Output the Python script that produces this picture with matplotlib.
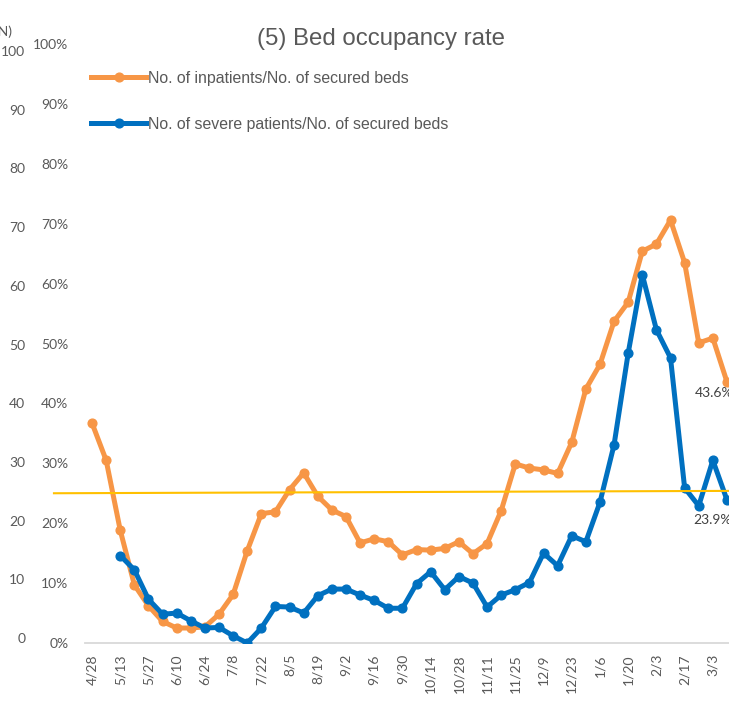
import matplotlib
matplotlib.use("Agg")
import matplotlib.pyplot as plt
import numpy as np

weeks = ["4/28", "5/6", "5/13", "5/20", "5/27", "6/3", "6/10", "6/17", "6/24", "7/1",
         "7/8", "7/15", "7/22", "7/29", "8/5", "8/12", "8/19", "8/26", "9/2", "9/9",
         "9/16", "9/23", "9/30", "10/7", "10/14", "10/21", "10/28", "11/4", "11/11", "11/18",
         "11/25", "12/2", "12/9", "12/16", "12/23", "12/30", "1/6", "1/13", "1/20", "1/27",
         "2/3", "2/10", "2/17", "2/24", "3/3", "3/10"]

inpatients = [36.7, 30.5, 18.8, 9.7, 6.2, 3.6, 2.5, 2.5, 2.7, 4.8,
              8.1, 15.4, 21.6, 21.9, 25.6, 28.4, 24.5, 22.2, 21.1, 16.7,
              17.4, 16.9, 14.7, 15.6, 15.5, 15.8, 16.9, 14.9, 16.6, 22.1,
              29.9, 29.2, 28.9, 28.3, 33.5, 42.4, 46.5, 53.7, 56.9, 65.4,
              66.6, 70.6, 63.5, 50.1, 50.9, 43.6]

severe = [np.nan, np.nan, 14.6, 12.2, 7.3, 4.8, 5.0, 3.7, 2.5, 2.6,
          1.2, 0.0, 2.5, 6.1, 6.0, 5.0, 7.9, 9.0, 9.0, 8.0,
          7.1, 5.8, 5.8, 9.9, 11.9, 8.9, 11.1, 10.0, 6.0, 8.0,
          8.9, 10.1, 15.0, 12.9, 17.9, 16.9, 23.5, 33.1, 48.4, 61.5,
          52.3, 47.6, 25.9, 22.9, 30.5, 23.9]

# reference line (start/end x in week index, value in %)
ref_x = [-2.7, 46]
ref_y = [25.0, 25.4]

ORANGE = "#F79646"
BLUE = "#0070C0"
GREY = "#595959"
TICKFONT = ["Lato", "DejaVu Sans"]

plt.rcParams["font.family"] = ["Liberation Sans", "DejaVu Sans"]

fig = plt.figure(figsize=(7.29, 7.21), dpi=100)
ax = fig.add_axes([85 / 729, 78 / 721, (734 - 85) / 729, 599 / 721])

x = np.arange(len(weeks))
ax.plot(x, inpatients, color=ORANGE, lw=3.6, marker="o", ms=6.3, zorder=3,
        label="No. of inpatients/No. of secured beds")
ax.plot(x, severe, color=BLUE, lw=3.6, marker="o", ms=6.3, zorder=4,
        label="No. of severe patients/No. of secured beds")
ax.plot(ref_x, ref_y, color="#FFC000", lw=1.5, zorder=5, clip_on=False)

ax.set_xlim(-0.5, len(weeks) - 0.5)
ax.set_ylim(0, 100)
ax.set_yticks(np.arange(0, 101, 10))
ax.set_yticklabels([f"{v}%" for v in range(0, 101, 10)], family=TICKFONT)
ax.set_xticks(x[::2])
ax.set_xticklabels(weeks[::2], rotation=90, family=TICKFONT)
ax.tick_params(axis="y", length=0, pad=12, labelsize=10, labelcolor=GREY)
ax.tick_params(axis="x", length=0, pad=8, labelsize=10, labelcolor=GREY)
for s in ["top", "right", "left"]:
    ax.spines[s].set_visible(False)
ax.spines["bottom"].set_color("#D9D9D9")
ax.spines["bottom"].set_linewidth(1.3)

# secondary count axis drawn on the left
ax2 = ax.twinx()
ax2.set_ylim(-0.84, 101.2)
ax2.set_yticks(np.arange(0, 101, 10))
ax2.set_yticklabels([str(v) for v in range(0, 101, 10)], family=TICKFONT)
ax2.yaxis.set_ticks_position("left")
ax2.tick_params(axis="y", length=0, pad=43, labelsize=10, labelcolor=GREY)
for s in ax2.spines.values():
    s.set_visible(False)
fig.text(12 / 729, 1 - 32 / 721, "(N)", ha="right", va="center", fontsize=10,
         color=GREY, family=TICKFONT)

ax.annotate(f"{inpatients[-1]}%", (x[-1], inpatients[-1]), xytext=(-23, -8),
            textcoords="offset points", ha="left", va="center", fontsize=10,
            color="#404040", family=TICKFONT)
ax.annotate(f"{severe[-1]}%", (x[-1], severe[-1]), xytext=(-24, -14.5),
            textcoords="offset points", ha="left", va="center", fontsize=10,
            color="#404040", family=TICKFONT)

fig.text(381 / 729, 1 - 39 / 721, "(5) Bed occupancy rate", ha="center", va="center",
         fontsize=17.3, color=GREY)

leg = ax.legend(loc="upper left", bbox_to_anchor=(91 / 729, 1 - 71 / 721),
                bbox_transform=fig.transFigure, frameon=False, fontsize=11.4,
                handlelength=3.5, handletextpad=0.1, labelspacing=1.95,
                borderaxespad=0, borderpad=0)
for t in leg.get_texts():
    t.set_color(GREY)

fig.savefig("out.png", dpi=100)
